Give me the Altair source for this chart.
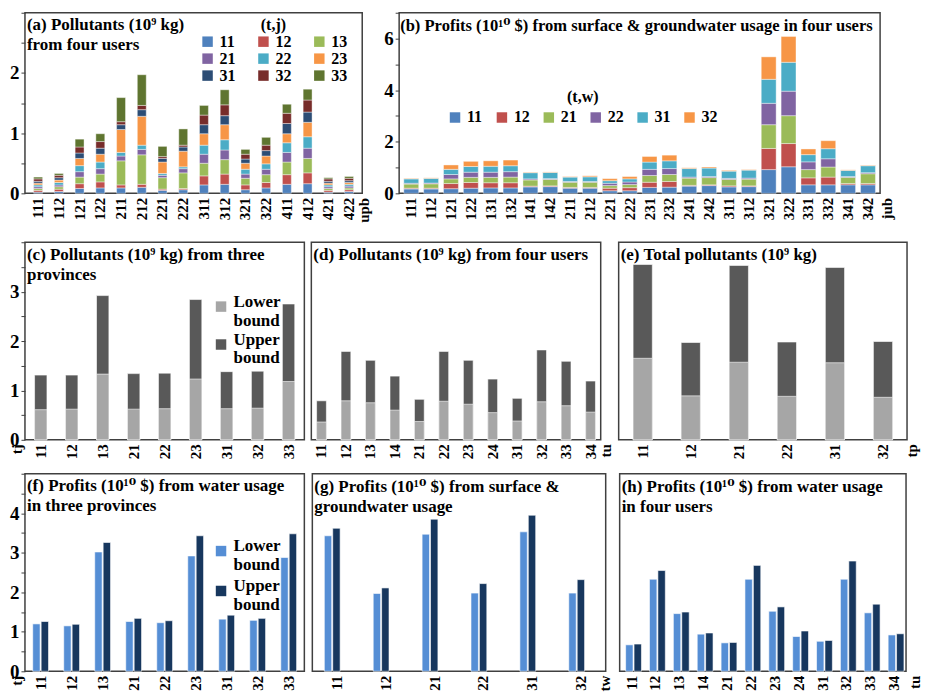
import altair as alt
import pandas as pd

FONT = "Liberation Serif, DejaVu Serif"

# ---------------- (a) pollutants from four users, stacked by (t,j) ----------------
a_cats = ["111", "112", "121", "122", "211", "212", "221", "222",
          "311", "312", "321", "322", "411", "412", "421", "422"]
a_keys = ["11", "12", "13", "21", "22", "23", "31", "32", "33"]
a_colors = ["#4F81BD", "#C0504D", "#9BBB59", "#8064A2", "#4BACC6",
            "#F79646", "#2C4D75", "#772C2A", "#5F7530"]
a_11 = [0.02, 0.03, 0.08, 0.09, 0.09, 0.10, 0.05, 0.06, 0.14, 0.15, 0.06, 0.09, 0.15, 0.16, 0.02, 0.03]
a_12 = [0.03, 0.04, 0.08, 0.10, 0.05, 0.05, 0.02, 0.02, 0.15, 0.17, 0.08, 0.09, 0.16, 0.18, 0.03, 0.03]
a_13 = [0.03, 0.04, 0.11, 0.13, 0.40, 0.49, 0.19, 0.26, 0.21, 0.24, 0.11, 0.13, 0.21, 0.24, 0.03, 0.03]
a_21 = [0.03, 0.03, 0.09, 0.09, 0.08, 0.09, 0.04, 0.07, 0.15, 0.16, 0.07, 0.09, 0.16, 0.17, 0.03, 0.03]
a_22 = [0.03, 0.04, 0.10, 0.11, 0.06, 0.07, 0.03, 0.03, 0.15, 0.17, 0.08, 0.09, 0.16, 0.19, 0.03, 0.03]
a_23 = [0.03, 0.04, 0.12, 0.13, 0.38, 0.48, 0.19, 0.26, 0.19, 0.25, 0.10, 0.13, 0.15, 0.24, 0.03, 0.03]
a_31 = [0.03, 0.04, 0.09, 0.10, 0.08, 0.11, 0.06, 0.07, 0.15, 0.15, 0.07, 0.09, 0.17, 0.17, 0.03, 0.03]
a_32 = [0.04, 0.04, 0.10, 0.11, 0.05, 0.07, 0.03, 0.03, 0.16, 0.18, 0.08, 0.09, 0.17, 0.20, 0.04, 0.04]
a_33 = [0.03, 0.03, 0.13, 0.13, 0.40, 0.51, 0.17, 0.27, 0.16, 0.25, 0.08, 0.13, 0.15, 0.18, 0.02, 0.03]

# ---------------- (b) profits from surface & groundwater, stacked by (t,w) ----------------
b_cats = ["111", "112", "121", "122", "131", "132", "141", "142", "211", "212", "221", "222",
          "231", "232", "241", "242", "311", "312", "321", "322", "331", "332", "341", "342"]
b_keys = ["11", "12", "21", "22", "31", "32"]
b_colors = ["#4F81BD", "#C0504D", "#9BBB59", "#8064A2", "#4BACC6", "#F79646"]
b_11 = [0.17, 0.17, 0.18, 0.20, 0.21, 0.21, 0.25, 0.26, 0.20, 0.20, 0.10, 0.10,
        0.23, 0.24, 0.28, 0.30, 0.25, 0.26, 0.92, 1.03, 0.33, 0.33, 0.33, 0.33]
b_12 = [0.03, 0.03, 0.20, 0.22, 0.20, 0.20, 0.03, 0.03, 0.03, 0.03, 0.10, 0.12,
        0.20, 0.22, 0.03, 0.03, 0.04, 0.03, 0.82, 0.90, 0.27, 0.30, 0.05, 0.05]
b_21 = [0.16, 0.17, 0.18, 0.20, 0.21, 0.22, 0.24, 0.25, 0.20, 0.20, 0.10, 0.12,
        0.26, 0.27, 0.28, 0.28, 0.25, 0.26, 0.92, 1.08, 0.32, 0.39, 0.24, 0.38]
b_22 = [0.03, 0.03, 0.17, 0.20, 0.20, 0.21, 0.04, 0.03, 0.03, 0.03, 0.09, 0.10,
        0.24, 0.23, 0.04, 0.04, 0.04, 0.04, 0.83, 0.95, 0.30, 0.32, 0.03, 0.04]
b_31 = [0.17, 0.18, 0.20, 0.22, 0.23, 0.23, 0.24, 0.24, 0.17, 0.18, 0.10, 0.12,
        0.28, 0.30, 0.33, 0.33, 0.28, 0.31, 0.93, 1.12, 0.28, 0.39, 0.24, 0.27]
b_32 = [0.02, 0.02, 0.17, 0.20, 0.21, 0.22, 0.02, 0.02, 0.02, 0.04, 0.08, 0.09,
        0.22, 0.22, 0.03, 0.04, 0.03, 0.02, 0.87, 1.00, 0.22, 0.31, 0.02, 0.02]

# ---------------- lower / upper bound panels ----------------
bounds = ["Lower bound", "Upper bound"]
gray_colors = ["#A6A6A6", "#595959"]
blue_colors = ["#558ED5", "#17375E"]

c_cats = ["11", "12", "13", "21", "22", "23", "31", "32", "33"]
c_lower = [0.61, 0.62, 1.33, 0.62, 0.63, 1.23, 0.63, 0.64, 1.18]
c_upper = [1.31, 1.31, 2.92, 1.34, 1.35, 2.84, 1.38, 1.39, 2.75]

d_cats = ["11", "12", "13", "14", "21", "22", "23", "24", "31", "32", "33", "34"]
d_lower = [0.36, 0.79, 0.75, 0.60, 0.37, 0.78, 0.72, 0.55, 0.38, 0.77, 0.69, 0.56]
d_upper = [0.79, 1.79, 1.61, 1.29, 0.82, 1.79, 1.61, 1.23, 0.84, 1.82, 1.59, 1.19]

e_cats = ["11", "12", "21", "22", "31", "32"]
e_lower = [1.65, 0.89, 1.57, 0.88, 1.56, 0.86]
e_upper = [3.55, 1.97, 3.53, 1.98, 3.49, 1.99]

f_cats = ["11", "12", "13", "21", "22", "23", "31", "32", "33"]
f_lower = [1.20, 1.15, 3.02, 1.26, 1.23, 2.92, 1.32, 1.29, 2.88]
f_upper = [1.26, 1.19, 3.26, 1.34, 1.28, 3.43, 1.42, 1.34, 3.48]

g_cats = ["11", "12", "21", "22", "31", "32"]
g_lower = [3.43, 1.97, 3.47, 1.98, 3.53, 1.98]
g_upper = [3.62, 2.11, 3.85, 2.22, 3.95, 2.32]

h_cats = ["11", "12", "13", "14", "21", "22", "23", "24", "31", "32", "33", "34"]
h_lower = [0.67, 2.33, 1.46, 0.94, 0.72, 2.33, 1.52, 0.88, 0.76, 2.33, 1.48, 0.92]
h_upper = [0.69, 2.55, 1.50, 0.97, 0.73, 2.68, 1.63, 1.02, 0.78, 2.79, 1.70, 0.95]

# ---------------- helpers ----------------
def panel_title(lines, size=17, dx=2):
    # title drawn inside the plot frame, at its top-left corner
    shift = 22 + 20 * (len(lines) - 1)
    return alt.TitleParams(text=lines, anchor="start", frame="group", orient="top",
                           baseline="top", offset=0, dx=dx, dy=shift, font=FONT,
                           fontSize=size, fontWeight="bold", color="black", lineHeight=20)


def x_axis(title, title_x):
    return alt.Axis(labelAngle=270, labelFont=FONT, labelFontSize=15, labelFontWeight="bold",
                    labelColor="black", labelPadding=4, ticks=False, domain=False,
                    title=title, titleAngle=270, titleFont=FONT, titleFontSize=15,
                    titleFontWeight="bold", titleColor="black", titleAlign="right",
                    titleBaseline="middle", titleX=title_x, titleY=4)


def y_axis(values, label_step, label_max):
    return alt.Axis(values=values,
                    labelExpr=f"(datum.value % {label_step} == 0 && datum.value <= {label_max}) ? '' + datum.value : ''",
                    labelFont=FONT, labelFontSize=19, labelFontWeight="bold", labelColor="black",
                    tickSize=4, tickColor="#404040", labelPadding=2, grid=False, domain=False,
                    title=None)


def legend(x, y, columns, title=None, col_pad=10, row_pad=2, title_pad=2, multiline=False):
    kw = dict(orient="none", legendX=x, legendY=y, columns=columns, padding=0,
              direction="horizontal" if columns > 1 else "vertical",
              labelFont=FONT, labelFontSize=17 if multiline else 16, labelFontWeight="bold",
              labelColor="black", symbolType="square", symbolSize=110, symbolStrokeWidth=0,
              symbolOpacity=1, columnPadding=col_pad, rowPadding=row_pad, labelOffset=4,
              labelLimit=200)
    if title is not None:
        kw.update(title=title, titleFont=FONT, titleFontSize=16, titleFontWeight="bold",
                  titleColor="black", titleAnchor="middle", titlePadding=title_pad)
    else:
        kw.update(title=None)
    if multiline:
        kw.update(labelExpr="split(datum.label, ' ')", labelBaseline="alphabetic")
    return alt.Legend(**kw)


def stacked_panel(cats, keys, colors, series, width, height, ymax, yvals, lstep, lmax,
                  xtitle, title_x, title, leg, pad_in, pad_out):
    rows = []
    for i, (k, vals) in enumerate(zip(keys, series)):
        for c, v in zip(cats, vals):
            rows.append({"cat": c, "key": k, "ord": i, "val": v})
    df = pd.DataFrame(rows)
    return alt.Chart(df).mark_bar(stroke="white", strokeWidth=0.4).encode(
        x=alt.X("cat:N", sort=cats, scale=alt.Scale(paddingInner=pad_in, paddingOuter=pad_out),
                axis=x_axis(xtitle, title_x)),
        y=alt.Y("val:Q", stack="zero", scale=alt.Scale(domain=[0, ymax], nice=False, zero=True),
                axis=y_axis(yvals, lstep, lmax)),
        color=alt.Color("key:N", sort=keys, scale=alt.Scale(domain=keys, range=colors), legend=leg),
        order=alt.Order("ord:Q", sort="ascending"),
    ).properties(width=width, height=height, title=title)


def bound_rows(cats, lower, upper):
    rows = []
    for c, v in zip(cats, upper):
        rows.append({"cat": c, "bound": bounds[1], "z": 0, "val": v})
    for c, v in zip(cats, lower):
        rows.append({"cat": c, "bound": bounds[0], "z": 1, "val": v})
    return pd.DataFrame(rows)


def overlap_panel(cats, lower, upper, width, height, xtitle, title_x, title, leg, yaxis,
                  pad_in, pad_out):
    df = bound_rows(cats, lower, upper)
    return alt.Chart(df).mark_bar(stroke="white", strokeWidth=0.6).encode(
        x=alt.X("cat:N", sort=cats, scale=alt.Scale(paddingInner=pad_in, paddingOuter=pad_out),
                axis=x_axis(xtitle, title_x)),
        y=alt.Y("val:Q", stack=None, scale=alt.Scale(domain=[0, 4], nice=False), axis=yaxis),
        color=alt.Color("bound:N", sort=bounds, scale=alt.Scale(domain=bounds, range=gray_colors),
                        legend=leg),
        order=alt.Order("z:Q", sort="ascending"),
    ).properties(width=width, height=height, title=panel_title(title))


def grouped_panel(cats, lower, upper, width, height, xtitle, title_x, title, leg, yaxis,
                  pad_in, pad_out):
    df = bound_rows(cats, lower, upper)
    return alt.Chart(df).mark_bar(stroke="white", strokeWidth=0.6).encode(
        x=alt.X("cat:N", sort=cats, scale=alt.Scale(paddingInner=pad_in, paddingOuter=pad_out),
                axis=x_axis(xtitle, title_x)),
        xOffset=alt.XOffset("bound:N", sort=bounds, scale=alt.Scale(paddingInner=0.12)),
        y=alt.Y("val:Q", scale=alt.Scale(domain=[0, 5], nice=False), axis=yaxis),
        color=alt.Color("bound:N", sort=bounds, scale=alt.Scale(domain=bounds, range=blue_colors),
                        legend=leg),
    ).properties(width=width, height=height, title=panel_title(title))


H1, H2, H3 = 181, 198, 198

pa = stacked_panel(a_cats, a_keys, a_colors, [a_11, a_12, a_13, a_21, a_22, a_23, a_31, a_32, a_33],
                   338, H1, 3, [0, 0.5, 1, 1.5, 2, 2.5, 3], 1, 2, "upb", 339,
                   panel_title(["(a) Pollutants (10⁹ kg)", "from four users"]),
                   legend(175, 4, 3, "(t,j)", col_pad=20, row_pad=1, title_pad=1),
                   0.57, 0.42)

pb = stacked_panel(b_cats, b_keys, b_colors, [b_11, b_12, b_21, b_22, b_31, b_32],
                   482, H1, 7, [0, 1, 2, 3, 4, 5, 6, 7], 2, 6, "jub", 488,
                   panel_title(["(b) Profits (10¹⁰ $) from surface & groundwater usage in four users"],
                               size=16.6, dx=1),
                   legend(48, 76, 6, "(t,w)", col_pad=11, row_pad=1, title_pad=5),
                   0.25, 0.235)

y_c = y_axis([0, 0.5, 1, 1.5, 2, 2.5, 3, 3.5, 4], 1, 3)
y_f = y_axis([0, 0.5, 1, 1.5, 2, 2.5, 3, 3.5, 4, 4.5, 5], 1, 4)

pc = overlap_panel(c_cats, c_lower, c_upper, 280, H2, "tj", -8,
                   ["(c) Pollutants (10⁹ kg) from three", "provinces"],
                   legend(188, 56, 1, None, row_pad=1, multiline=True), y_c, 0.6, 0.31)
pd_ = overlap_panel(d_cats, d_lower, d_upper, 290, H2, "tu", 295,
                    ["(d) Pollutants (10⁹ kg) from four users"], None, None, 0.6, 0.215)
pe = overlap_panel(e_cats, e_lower, e_upper, 289, H2, "tp", 293,
                   ["(e) Total pollutants (10⁹ kg)"], None, None, 0.6, 0.3)

pf = grouped_panel(f_cats, f_lower, f_upper, 280, H3, "tj", -8,
                   ["(f) Profits (10¹⁰ $) from water usage", "in three provinces"],
                   legend(188, 69, 1, None, row_pad=3, multiline=True), y_f, 0.49, 0.25)
pg = grouped_panel(g_cats, g_lower, g_upper, 294, H3, "tw", 293,
                   ["(g) Profits (10¹⁰ $) from surface &", "groundwater usage"], None, None, 0.49, 0.245)
ph = grouped_panel(h_cats, h_lower, h_upper, 287, H3, "tu", 295,
                   ["(h) Profits (10¹⁰ $) from water usage", "in four users"], None, None, 0.5, 0.25)


def hc(charts, spacing):
    return alt.hconcat(*charts, spacing=spacing).resolve_scale(
        color="independent", x="independent", y="independent").resolve_legend(color="independent")


def vc(charts, spacing):
    return alt.vconcat(*charts, spacing=spacing).resolve_scale(
        color="independent", x="independent", y="independent").resolve_legend(color="independent")


row1 = hc([pa, pb], 10)
row2 = hc([pc, hc([pd_, pe], 3)], 5)
row3 = hc([pf, hc([pg, ph], 5)], 6)

chart = vc([row1, vc([row2, row3], 12)], 17).properties(
    padding={"left": 0, "top": 2, "right": 0, "bottom": 0},
    background="white",
).configure_view(stroke="#404040", strokeWidth=1.5)

chart.save("out.html", embed_options={"renderer": "svg", "actions": False})
